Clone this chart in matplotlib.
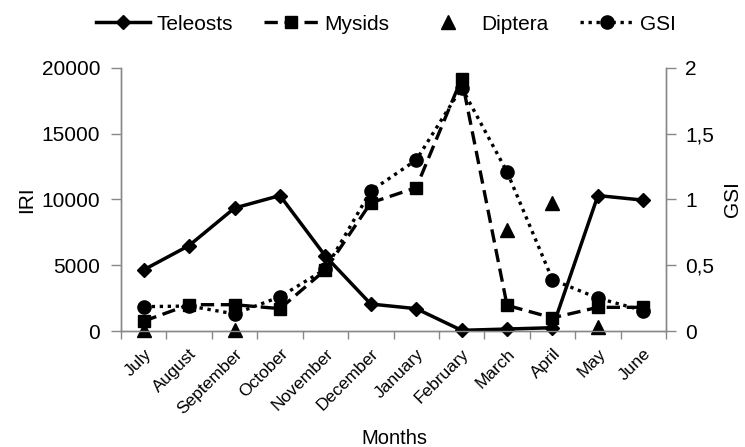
import matplotlib.pyplot as plt
import numpy as np
from matplotlib.lines import Line2D

plt.rcParams['font.family'] = ['Liberation Sans', 'DejaVu Sans']

months = ['July', 'August', 'September', 'October', 'November', 'December',
          'January', 'February', 'March', 'April', 'May', 'June']

# index of relative importance per prey group
teleosts = [4650, 6500, 9350, 10300, 5700, 2050, 1700, 50, 150, 250, 10300, 9950]
mysids = [750, 2000, 2000, 1700, 4650, 9750, 10900, 19200, 1950, 1000, 1800, 1800]
diptera = [50, np.nan, 100, np.nan, np.nan, np.nan, np.nan, np.nan, 7700, 9750, 300, np.nan]

# gonadosomatic index
gsi = [0.185, 0.19, 0.13, 0.26, 0.47, 1.065, 1.30, 1.85, 1.21, 0.39, 0.25, 0.155]

grey = '#888888'
fs = 15

fig = plt.figure(figsize=(7.45, 4.47), dpi=100)
ax = fig.add_axes([0.1624, 0.2595, 0.7316, 0.5884])
ax2 = ax.twinx()

x = np.arange(len(months))

ax.plot(x, teleosts, color='black', lw=2.5, marker='D', ms=7, zorder=3, clip_on=False)
ax.plot(x, mysids, color='black', lw=2.4, ls=(0, (4, 2)), marker='s', ms=8.5, zorder=3, clip_on=False)
ax.plot(x, diptera, color='black', ls='none', marker='^', ms=9.5, zorder=3, clip_on=False)
ax2.plot(x, gsi, color='black', lw=2.4, ls=(0, (1, 1.4)), marker='o', ms=9.5, zorder=3, clip_on=False)

ax.set_xlim(-0.5, len(months) - 0.5)
ax.set_ylim(0, 20000)
ax2.set_ylim(0, 2)
ax.set_yticks([0, 5000, 10000, 15000, 20000])
ax2.set_yticks([0, 0.5, 1, 1.5, 2])
ax2.set_yticklabels(['0', '0,5', '1', '1,5', '2'])

ax.set_xticks(x)
ax.set_xticklabels(months, rotation=45, ha='right', rotation_mode='anchor', fontsize=12.5)
ax.set_xticks(np.arange(-0.5, len(months)), minor=True)
ax.tick_params(axis='x', which='major', length=0, pad=11)
ax.tick_params(axis='x', which='minor', length=6, color=grey, width=1)

ax.tick_params(axis='y', length=7, color=grey, width=1, labelsize=fs, pad=8)
ax2.tick_params(axis='y', length=7, color=grey, width=1, labelsize=fs, pad=7)

for a in (ax, ax2):
    a.spines['top'].set_visible(False)
    for s in ('left', 'right', 'bottom'):
        a.spines[s].set_color(grey)
        a.spines[s].set_linewidth(1)

ax.set_ylabel('IRI', fontsize=fs, labelpad=4)
ax2.set_ylabel('GSI', fontsize=fs, labelpad=6)
# x label sits below the rotated month names
fig.text(394 / 745, 1 - 438 / 447, 'Months', fontsize=14.5, ha='center', va='center')

handles = [
    Line2D([], [], color='black', lw=2.5, marker='D', ms=7),
    Line2D([], [], color='black', lw=2.4, ls=(0, (4, 2)), marker='s', ms=8.5),
    Line2D([], [], color='black', ls='none', marker='^', ms=9.5),
    Line2D([], [], color='black', lw=2.4, ls=(0, (1, 1.4)), marker='o', ms=9.5),
]
fig.legend(handles, ['Teleosts', 'Mysids', 'Diptera', 'GSI'], loc='center',
           bbox_to_anchor=(386 / 745, 1 - 24 / 447), ncol=4, frameon=False,
           fontsize=fs, handlelength=2.6, handletextpad=0.3, columnspacing=1.5)

fig.savefig('out.png', dpi=100)
